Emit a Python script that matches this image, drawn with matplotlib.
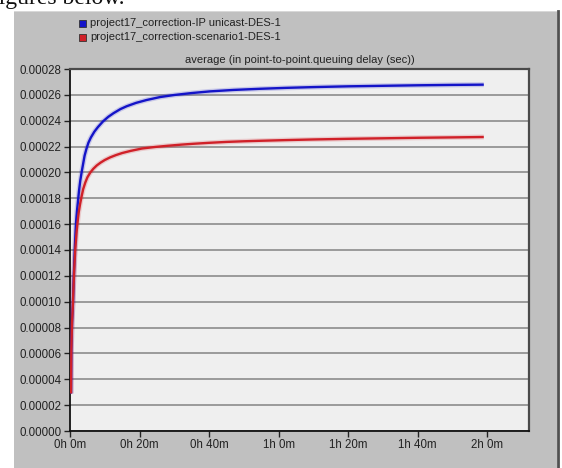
import matplotlib
matplotlib.use("Agg")
import matplotlib.pyplot as plt
from matplotlib.patches import Rectangle
from matplotlib.lines import Line2D

# Simulation time (minutes) and average queuing delay (sec) per scenario
ip_unicast_t = [0.29, 0.38, 0.5, 0.6, 0.75, 0.86, 1.05, 1.3, 1.5, 1.73, 2.0, 2.3,
                2.6, 2.97, 3.4, 3.8, 4.2, 4.7, 5.3, 6.0, 7.0, 8.0, 9.5, 11, 12.5,
                14.5, 16.3, 19, 22, 25.9, 30, 35, 40.3, 47, 54.7, 62, 70, 80, 90,
                100, 110, 119]
ip_unicast_delay = [0.000029, 0.000063, 0.000076, 0.000085, 0.000094, 0.000100,
                    0.000117, 0.000135, 0.000148, 0.000161, 0.000170, 0.000178,
                    0.000186, 0.000194, 0.000201, 0.000207, 0.000213, 0.000218,
                    0.000223, 0.000227, 0.0002315, 0.000235, 0.0002395, 0.000243,
                    0.0002458, 0.000249, 0.0002512, 0.0002538, 0.000256, 0.0002583,
                    0.0002599, 0.0002614, 0.0002627, 0.0002638, 0.0002647, 0.0002654,
                    0.000266, 0.0002666, 0.000267, 0.0002674, 0.0002677, 0.0002679]

scenario1_t = [0.29, 0.38, 0.5, 0.6, 0.75, 0.86, 1.05, 1.2, 1.5, 1.9, 2.2, 2.5,
               2.9, 3.3, 3.8, 4.4, 5.0, 5.8, 6.7, 7.7, 8.8, 10, 11.5, 13.2, 15,
               17.5, 20.7, 24.5, 28, 32, 35.7, 40, 45, 50, 55, 62, 70, 80, 90,
               100, 110, 119]
scenario1_delay = [0.000029, 0.000062, 0.000075, 0.000084, 0.000093, 0.000100,
                   0.000114, 0.000124, 0.000140, 0.000154, 0.000162, 0.000169,
                   0.0001755, 0.000181, 0.0001872, 0.0001922, 0.0001962, 0.0001998,
                   0.0002028, 0.0002054, 0.0002076, 0.0002096, 0.0002116, 0.0002134,
                   0.000215, 0.0002167, 0.0002185, 0.0002197, 0.0002206, 0.0002215,
                   0.0002222, 0.0002229, 0.0002236, 0.0002241, 0.0002245, 0.000225,
                   0.0002255, 0.000226, 0.0002264, 0.0002268, 0.0002271, 0.0002274]

series_names = ["project17_correction-IP unicast-DES-1",
                "project17_correction-scenario1-DES-1"]
series_colors = ["#1414c8", "#d02028"]

x_ticks = [0, 20, 40, 60, 80, 100, 120]
x_tick_labels = ["0h 0m", "0h 20m", "0h 40m", "1h 0m", "1h 20m", "1h 40m", "2h 0m"]
y_ticks = [i * 0.00002 for i in range(15)]
y_tick_labels = [f"{v:.5f}" for v in y_ticks]

chart_title = "average (in point-to-point.queuing delay (sec))"

W, H = 562, 468
fig = plt.figure(figsize=(W / 100, H / 100), dpi=100)
fig.patch.set_facecolor("white")

font = "Liberation Sans"


def fx(px):
    return px / W


def fy(py):
    return 1 - py / H


# gray panel behind the chart
fig.add_artist(Rectangle((fx(14), 0), fx(557) - fx(14), fy(11),
                         transform=fig.transFigure, facecolor="#c0c0c0",
                         edgecolor="none", zorder=0))
fig.add_artist(Rectangle((fx(14), fy(12)), fx(557) - fx(14), 1 / H,
                         transform=fig.transFigure, facecolor="#d8d8d8",
                         edgecolor="none", zorder=0))
fig.add_artist(Line2D([fx(557.5), fx(557.5)], [0, fy(11)], transform=fig.transFigure,
                      color="#505050", lw=2.0, zorder=1))

# document text running above the panel
fig.text(fx(124), fy(4), "the figures below.", ha="right", va="baseline",
         fontsize=17, family="Liberation Serif", color="#111111")

ax = fig.add_axes([fx(70), fy(431), fx(529) - fx(70), fy(69) - fy(431)])
ax.set_facecolor("#efefef")

for t, v, c in [(ip_unicast_t, ip_unicast_delay, series_colors[0]),
                (scenario1_t, scenario1_delay, series_colors[1])]:
    ax.plot(t, v, color=c, lw=3.6, alpha=0.18, solid_capstyle="butt", zorder=3)
    ax.plot(t, v, color=c, lw=1.7, solid_capstyle="butt", zorder=4)

ax.set_xlim(0, 132)
ax.set_ylim(0, 0.00028)
ax.set_xticks(x_ticks)
ax.set_xticklabels(x_tick_labels, family=font, fontsize=8.3, color="#222222")
ax.set_yticks(y_ticks)
ax.set_yticklabels(y_tick_labels, family=font, fontsize=8.3, color="#222222")
ax.tick_params(axis="both", direction="out", length=4, width=1, color="#222222", pad=2)

ax.yaxis.grid(True, color="#8c8c8c", lw=1.2)
ax.xaxis.grid(False)
ax.set_axisbelow(True)

for side in ["left", "bottom"]:
    ax.spines[side].set_color("#111111")
    ax.spines[side].set_linewidth(1.3)
for side in ["top", "right"]:
    ax.spines[side].set_color("#4a4a4a")
    ax.spines[side].set_linewidth(1.6)

fig.text(fx(300), fy(60), chart_title, ha="center", va="center",
         family=font, fontsize=8, color="#222222")

# legend squares and names
for i, (name, c) in enumerate(zip(series_names, series_colors)):
    yc = 23 + i * 14.5
    fig.add_artist(Rectangle((fx(79), fy(yc + 3.5)), 7 / W, 7 / H,
                             transform=fig.transFigure, facecolor=c,
                             edgecolor="#333333", lw=0.6, zorder=2))
    fig.text(fx(90), fy(yc), name, ha="left", va="center",
             family=font, fontsize=8, color="#222222")

fig.savefig("out.png", dpi=100, facecolor=fig.get_facecolor())
